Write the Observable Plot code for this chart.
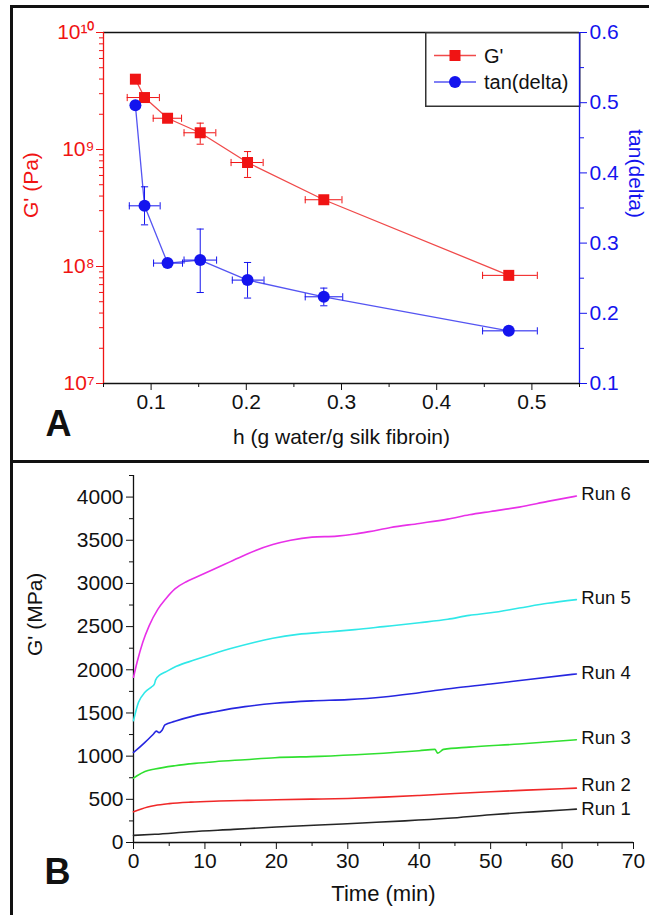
<!DOCTYPE html>
<html><head><meta charset="utf-8">
<script src="https://cdn.jsdelivr.net/npm/d3@7"></script>
<script src="https://cdn.jsdelivr.net/npm/@observablehq/plot@0.6"></script>
<style>
html,body{margin:0;padding:0;background:#fff;}
#wrap{position:relative;width:649px;height:915px;overflow:hidden;background:#fff;font-family:"Liberation Sans",Arial,sans-serif;}
#wrap svg{position:absolute;}
.bar{position:absolute;background:#111;}
</style></head><body><div id="wrap"></div>
<script>
// ---------- Panel A data ----------
const hWater   = [0.0835, 0.0931, 0.1173, 0.1516, 0.2013, 0.2814, 0.4757];
const gPrimePa = [3.99e9, 2.78e9, 1.85e9, 1.39e9, 7.74e8, 3.72e8, 8.4e7];
const gErrHLo  = [null, 0.0749, 0.1022, 0.1346, 0.1840, 0.2619, 0.4482];
const gErrHHi  = [null, 0.1087, 0.1320, 0.1680, 0.2177, 0.3005, 0.5057];
const gErrVLo  = [null, null, null, 1.11e9, 5.77e8, null, null];
const gErrVHi  = [null, null, null, 1.68e9, 9.6e8, null, null];
const tanDelta  = [0.4965, 0.3531, 0.2715, 0.2758, 0.2473, 0.2235, 0.175];
const tanErrHLo = [null, 0.0771, 0.1026, 0.1346, 0.1853, 0.2619, 0.4482];
const tanErrHHi = [null, 0.1095, 0.1330, 0.1688, 0.2186, 0.3013, 0.5057];
const tanErrVLo = [null, 0.326, null, 0.2296, 0.2217, 0.2107, null];
const tanErrVHi = [null, 0.3802, null, 0.320, 0.2724, 0.2359, null];
const hTicks = [0.1, 0.2, 0.3, 0.4, 0.5];
const hMinorTicks = [0.05, 0.15, 0.25, 0.35, 0.45, 0.55];
const gTicks = [1e7, 1e8, 1e9, 1e10];
const gMinorTicks = [2e7,3e7,4e7,5e7,6e7,7e7,8e7,9e7,2e8,3e8,4e8,5e8,6e8,7e8,8e8,9e8,2e9,3e9,4e9,5e9,6e9,7e9,8e9,9e9];
const tanTicks = [0.1, 0.2, 0.3, 0.4, 0.5, 0.6];
const tanMinorTicks = [0.15, 0.25, 0.35, 0.45, 0.55];
const legendLabels = ["G'", "tan(delta)"];

// ---------- Panel B data ----------
const runNames = ["Run 1", "Run 2", "Run 3", "Run 4", "Run 5", "Run 6"];
const runColors = ["#262626", "#f02828", "#30e030", "#2626e0", "#30e8e8", "#e830e8"];
const run1Time = [0, 3, 8, 14, 20, 26, 32, 38, 44, 50, 56, 62];
const run1G    = [82, 95, 125, 152, 180, 202, 226, 250, 280, 322, 355, 386];
const run2Time = [0, 1, 2, 3, 5, 8, 12, 16, 20, 25, 30, 35, 40, 45, 50, 55, 62];
const run2G    = [356, 385, 410, 428, 450, 468, 480, 488, 495, 502, 510, 525, 545, 568, 588, 606, 630];
const run3Time = [0, 0.5, 1.6, 3, 5.8, 8.6, 11.4, 15.6, 19.8, 26, 33, 40, 42.2, 42.6, 43.4, 47, 54, 62];
const run3G    = [746, 773, 823, 851, 889, 916, 936, 959, 982, 997, 1025, 1063, 1078, 1035, 1078, 1105, 1140, 1190];
const run4Time = [0, 0.3, 1.6, 2.8, 3.2, 3.6, 4.0, 4.4, 5.8, 8.6, 11.4, 15.6, 19.8, 25, 30, 35, 40, 45, 50, 55, 62];
const run4G    = [1043, 1063, 1159, 1257, 1290, 1272, 1300, 1361, 1403, 1469, 1515, 1573, 1612, 1640, 1655, 1685, 1735, 1790, 1835, 1885, 1952];
const run5Time = [0, 0.7, 1.6, 2.5, 2.9, 3.1, 3.7, 4.4, 6, 8.6, 11, 14, 17, 19.5, 23, 27.5, 31, 35, 40, 44, 47, 50, 54, 58, 62];
const run5G    = [1411, 1623, 1739, 1800, 1830, 1883, 1940, 1971, 2040, 2115, 2180, 2255, 2320, 2365, 2410, 2440, 2465, 2500, 2545, 2585, 2630, 2660, 2715, 2770, 2813];
const run6Time = [0, 0.5, 1.3, 2.2, 3.4, 4.5, 5.8, 7.4, 8.6, 11, 13.5, 16, 19.5, 22, 25, 28.5, 31, 33, 36, 40, 44, 47, 50, 54, 58, 62];
const run6G    = [1913, 2087, 2319, 2512, 2700, 2821, 2937, 3020, 3065, 3155, 3250, 3345, 3450, 3500, 3536, 3548, 3572, 3600, 3648, 3695, 3745, 3795, 3834, 3884, 3950, 4012];
const runLabelTime = [62, 62, 62, 62, 62, 62];
const runLabelG = [386, 665, 1206, 1963, 2829, 4039];
const timeTicks = [0, 10, 20, 30, 40, 50, 60, 70];
const timeMinorTicks = [5, 15, 25, 35, 45, 55, 65];
const gbTicks = [0, 500, 1000, 1500, 2000, 2500, 3000, 3500, 4000];
const gbMinorTicks = [250, 750, 1250, 1750, 2250, 2750, 3250, 3750, 4250];

// ---------- build ----------
const FONT = '"Liberation Sans", Arial, sans-serif';
const RED = "#f01414", RED_LINE = "#f04a4a", BLUE = "#1414ee", BLUE_LINE = "#5555f2", INK = "#111";
const W = 649, HA = 461, HB = 454, TICKFS = 21;
const mA = {marginLeft: 103, marginRight: 70, marginTop: 32, marginBottom: 78};
const baseStyle = {background: "transparent", fontFamily: FONT, fontSize: "20px", color: INK, overflow: "visible"};
const supDigits = "⁰¹²³⁴⁵⁶⁷⁸⁹";
const supFmt = d => "10" + String(Math.round(Math.log10(d))).split("").map(c => supDigits[+c]).join("");
const capV = {draw(ctx, size) { const r = Math.sqrt(size / Math.PI); ctx.moveTo(0, -r); ctx.lineTo(0, r); }};
const capH = {draw(ctx, size) { const r = Math.sqrt(size / Math.PI); ctx.moveTo(-r, 0); ctx.lineTo(r, 0); }};

const rowsG = hWater.map((h, i) => ({h, v: gPrimePa[i], xl: gErrHLo[i], xh: gErrHHi[i], yl: gErrVLo[i], yh: gErrVHi[i]}));
const rowsT = hWater.map((h, i) => ({h, v: tanDelta[i], xl: tanErrHLo[i], xh: tanErrHHi[i], yl: tanErrVLo[i], yh: tanErrVHi[i]}));

function errorMarks(rows, color) {
  const hx = rows.filter(d => d.xl != null);
  const vy = rows.filter(d => d.yl != null);
  return [
    Plot.ruleY(hx, {y: "v", x1: "xl", x2: "xh", stroke: color, strokeWidth: 1}),
    Plot.dot(hx.flatMap(d => [{x: d.xl, y: d.v}, {x: d.xh, y: d.v}]), {x: "x", y: "y", symbol: capV, r: 3.6, stroke: color, fill: "none", strokeWidth: 1}),
    Plot.ruleX(vy, {x: "h", y1: "yl", y2: "yh", stroke: color, strokeWidth: 1}),
    Plot.dot(vy.flatMap(d => [{x: d.h, y: d.yl}, {x: d.h, y: d.yh}]), {x: "x", y: "y", symbol: capH, r: 3.6, stroke: color, fill: "none", strokeWidth: 1})
  ];
}

const plotA1 = Plot.plot({
  width: W, height: HA, ...mA, style: baseStyle,
  x: {domain: [0.05, 0.55]},
  y: {type: "log", domain: [1e7, 1e10]},
  marks: [
    Plot.ruleY([1e10], {stroke: INK, strokeWidth: 1.3}),
    Plot.ruleY([1e7], {stroke: INK, strokeWidth: 1.3}),
    Plot.ruleX([0.05], {stroke: RED, strokeWidth: 1.3}),
    Plot.axisX(hTicks, {tickSize: 7, tickPadding: 4, fontSize: TICKFS, tickFormat: d => d.toFixed(1), label: null, color: INK}),
    Plot.axisX(hMinorTicks, {tickSize: 4, fill: "none", label: null, stroke: INK}),
    Plot.axisY(gTicks, {tickSize: 7, tickPadding: 2, fontSize: TICKFS, tickFormat: supFmt, label: null, color: RED}),
    Plot.axisY(gMinorTicks, {tickSize: 4, fill: "none", label: null, stroke: RED}),
    Plot.line(rowsG, {x: "h", y: "v", stroke: RED_LINE, strokeWidth: 1.3}),
    ...errorMarks(rowsG, RED),
    Plot.dot(rowsG, {x: "h", y: "v", symbol: "square", r: 6.2, fill: RED, stroke: "none"}),
    Plot.text(["h (g water/g silk fibroin)"], {text: d => d, frameAnchor: "bottom", dy: 60, fontSize: 21, fill: INK}),
    Plot.text(["G' (Pa)"], {text: d => d, frameAnchor: "left", dx: -72, dy: 10, rotate: -90, fontSize: 21, fill: RED}),
    Plot.text(["A"], {text: d => d, frameAnchor: "bottom-left", dx: -58, dy: 52, fontSize: 36, fontWeight: "bold", fill: INK})
  ]
});

const plotA2 = Plot.plot({
  width: W, height: HA, ...mA, style: baseStyle,
  x: {domain: [0.05, 0.55], axis: null},
  y: {domain: [0.1, 0.6]},
  marks: [
    Plot.ruleX([0.55], {stroke: BLUE, strokeWidth: 1.3}),
    Plot.axisY(tanTicks, {anchor: "right", tickSize: 7, tickPadding: 3, fontSize: TICKFS, tickFormat: d => d.toFixed(1), label: null, color: BLUE}),
    Plot.axisY(tanMinorTicks, {anchor: "right", tickSize: 4, fill: "none", label: null, stroke: BLUE}),
    Plot.line(rowsT, {x: "h", y: "v", stroke: BLUE_LINE, strokeWidth: 1.3}),
    ...errorMarks(rowsT, BLUE),
    Plot.dot(rowsT, {x: "h", y: "v", r: 6, fill: BLUE, stroke: "none"}),
    Plot.text(["tan(delta)"], {text: d => d, frameAnchor: "right", dx: 56, dy: 10, rotate: 90, fontSize: 21, fill: BLUE})
  ]
});

const rowsB = runNames.flatMap((run, i) => {
  const t = [run1Time, run2Time, run3Time, run4Time, run5Time, run6Time][i];
  const g = [run1G, run2G, run3G, run4G, run5G, run6G][i];
  return t.map((tt, j) => ({run, t: tt, g: g[j]}));
});
const labelsB = runNames.map((run, i) => ({run, t: runLabelTime[i], g: runLabelG[i]}));

const plotB = Plot.plot({
  width: W, height: HB, marginLeft: 133, marginRight: 16, marginTop: 14, marginBottom: 73, style: baseStyle,
  x: {domain: [0, 70]},
  y: {domain: [0, 4250]},
  color: {domain: runNames, range: runColors},
  marks: [
    Plot.ruleX([0], {stroke: INK, strokeWidth: 1.3}),
    Plot.ruleY([0], {stroke: INK, strokeWidth: 1.3}),
    Plot.axisX(timeTicks, {tickSize: 7, tickPadding: 4, fontSize: TICKFS, tickFormat: d => String(d), label: null, color: INK}),
    Plot.axisX(timeMinorTicks, {tickSize: 4, fill: "none", label: null, stroke: INK}),
    Plot.axisY(gbTicks, {tickSize: 7, tickPadding: 3, fontSize: TICKFS, tickFormat: d => String(d), label: null, color: INK}),
    Plot.axisY(gbMinorTicks, {tickSize: 4, fill: "none", label: null, stroke: INK}),
    Plot.line(rowsB, {x: "t", y: "g", z: "run", stroke: "run", strokeWidth: 1.6, curve: "monotone-x"}),
    Plot.text(labelsB, {x: "t", y: "g", text: "run", dx: 5, textAnchor: "start", fontSize: 18.5, fill: INK}),
    Plot.text(["G' (MPa)"], {text: d => d, frameAnchor: "left", dx: -98, dy: -3, rotate: -90, fontSize: 21, fill: INK}),
    Plot.text(["Time (min)"], {text: d => d, frameAnchor: "bottom", dy: 58, fontSize: 22, fill: INK}),
    Plot.text(["B"], {text: d => d, frameAnchor: "bottom-left", dx: -89, dy: 41, fontSize: 36, fontWeight: "bold", fill: INK})
  ]
});

const wrap = document.getElementById("wrap");
function place(el, left, top) { el.style.left = left + "px"; el.style.top = top + "px"; wrap.appendChild(el); }
place(plotA1, 0, 0);

// legend (panel A)
const NS = "http://www.w3.org/2000/svg";
const leg = document.createElementNS(NS, "svg");
leg.setAttribute("width", 156); leg.setAttribute("height", 76);
leg.style.overflow = "visible";
const legColors = [RED, BLUE], legLine = [RED_LINE, BLUE_LINE];
let html = `<rect x="0.75" y="0.75" width="154" height="73.5" fill="#fff" stroke="#333" stroke-width="1.5"/>`;
legendLabels.forEach((lab, i) => {
  const y = i === 0 ? 23.5 : 50;
  html += `<line x1="9" x2="51" y1="${y}" y2="${y}" stroke="${legLine[i]}" stroke-width="1.3"/>`;
  html += i === 0 ? `<rect x="24.5" y="${y - 5.5}" width="11" height="11" fill="${legColors[i]}"/>`
                  : `<circle cx="30" cy="${y}" r="6" fill="${legColors[i]}"/>`;
  html += `<text x="59" y="${y}" dy="0.35em" font-size="20" font-family='${FONT}' fill="${INK}">${lab}</text>`;
});
leg.innerHTML = html;
place(leg, 425, 31.5);

place(plotA2, 0, 0);
place(plotB, 0, 461);

// figure frame lines
function bar(left, top, w, h) { const d = document.createElement("div"); d.className = "bar"; d.style.left = left + "px"; d.style.top = top + "px"; d.style.width = w + "px"; d.style.height = h + "px"; wrap.appendChild(d); }
bar(10, 5, 639, 3);
bar(10, 5, 3, 910);
bar(10, 460, 639, 3);
</script></body></html>
